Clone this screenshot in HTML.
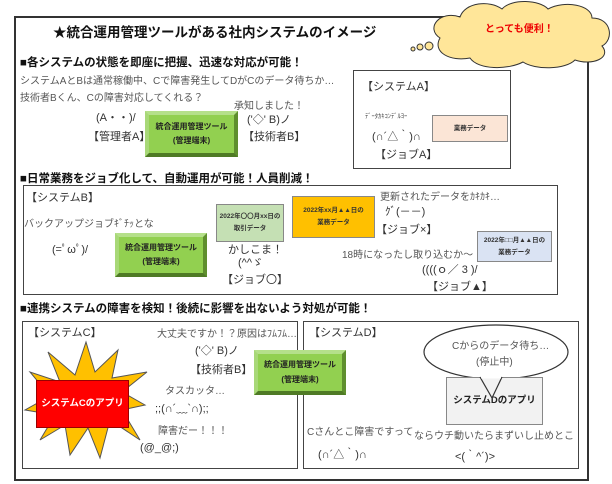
<!DOCTYPE html>
<html><head><meta charset="utf-8"><style>
body{margin:0;width:612px;height:484px;background:#fff;position:relative;overflow:hidden;font-family:"Liberation Sans","Noto Sans CJK JP",sans-serif;}
.a{position:absolute;white-space:nowrap;line-height:1;}
.g{color:#555;font-size:10px;}
.k{color:#333;font-size:11px;}
.box{position:absolute;border:1.5px solid #444;background:#fff;}
.tool{position:absolute;background:#92d050;border:4px solid;border-color:#b5e08a #5f8f2e #4f7a25 #a8d878;box-sizing:border-box;text-align:center;font-size:8px;font-weight:bold;color:#222;display:flex;flex-direction:column;justify-content:center;line-height:1.8;}
.dat{position:absolute;border:1px solid #888;box-sizing:border-box;text-align:center;font-size:6.5px;font-weight:bold;color:#333;display:flex;flex-direction:column;justify-content:center;line-height:1.8;}
.h{position:absolute;font-size:11.5px;font-weight:bold;color:#111;white-space:nowrap;}
</style></head><body>
<div class="box" style="left:14px;top:16px;width:571px;height:461px;border-width:2px;border-color:#333"></div>
<svg style="position:absolute;left:0;top:0" width="612" height="484">
<g fill="#ffe699" stroke="#333" stroke-width="1">
<circle cx="413" cy="49" r="2"/><circle cx="420" cy="47" r="3"/><circle cx="429" cy="46" r="4"/>
<path d="M440 38 C425 28 440 10 460 17 C465 2 490 0 502 9 C512 -2 540 0 548 9 C565 0 592 5 592 18 C612 18 614 40 602 46 C612 58 592 66 575 60 C565 70 535 70 523 62 C508 70 478 70 470 58 C450 62 432 52 440 38 Z"/>
</g>
</svg>
<div class="a" style="left:485px;top:25px;color:#e00;font-size:10px;font-weight:bold">とっても便利！</div>
<div class="a" style="left:53px;top:26px;font-size:13.5px;font-weight:bold;color:#111">★統合運用管理ツールがある社内システムのイメージ</div>
<div class="h" style="left:20px;top:54px">■各システムの状態を即座に把握、迅速な対応が可能！</div>
<div class="a g" style="left:20px;top:77px">システムAとBは通常稼働中、Cで障害発生してDがCのデータ待ちか…</div>
<div class="a g" style="left:20px;top:94px">技術者Bくん、Cの障害対応してくれる？</div>
<div class="a k" style="left:96px;top:113px">(A・・)/</div>
<div class="a k" style="left:88px;top:132px">【管理者A】</div>
<div class="tool" style="left:145px;top:111px;width:93px;height:46px"><div>統合運用管理ツール</div><div>(管理端末)</div></div>
<div class="a g" style="left:234px;top:102px">承知しました！</div>
<div class="a k" style="left:247px;top:115px">('◇' B)ノ</div>
<div class="a k" style="left:243px;top:132px">【技術者B】</div>
<div class="box" style="left:353px;top:70px;width:156px;height:97px"></div>
<div class="a k" style="left:362px;top:82px">【システムA】</div>
<div class="a" style="left:365px;top:114px;font-size:6.5px;color:#444">ﾃﾞｰﾀｶｷｺﾝﾃﾞﾙﾖｰ</div>
<div class="a k" style="left:372px;top:132px">(∩´△｀)∩</div>
<div class="a k" style="left:375px;top:150px">【ジョブA】</div>
<div class="dat" style="left:432px;top:115px;width:76px;height:27px;background:#fbe5d6">業務データ</div>
<div class="h" style="left:20px;top:170px">■日常業務をジョブ化して、自動運用が可能！人員削減！</div>
<div class="box" style="left:23px;top:185px;width:533px;height:108px"></div>
<div class="a k" style="left:26px;top:193px">【システムB】</div>
<div class="a g" style="left:24px;top:220px">バックアップジョブｷﾞﾁｯとな</div>
<div class="a k" style="left:52px;top:245px">(=ﾟωﾟ)/</div>
<div class="tool" style="left:115px;top:233px;width:92px;height:44px"><div>統合運用管理ツール</div><div>(管理端末)</div></div>
<div class="dat" style="left:216px;top:204px;width:68px;height:38px;background:#c5e0b4">2022年〇〇月xx日の<br>取引データ</div>
<div class="a k" style="left:228px;top:245px">かしこま！</div>
<div class="a k" style="left:238px;top:258px">(^^ゞ</div>
<div class="a k" style="left:222px;top:275px">【ジョブ〇】</div>
<div class="dat" style="left:292px;top:196px;width:83px;height:42px;background:#ffc000">2022年xx月▲▲日の<br>業務データ</div>
<div class="a g" style="left:380px;top:193px">更新されたデータをｶｷｶｷ…</div>
<div class="a k" style="left:385px;top:207px">ｸﾞ(－－)</div>
<div class="a k" style="left:376px;top:225px">【ジョブ×】</div>
<div class="dat" style="left:477px;top:231px;width:75px;height:31px;background:#dae3f3">2022年□□月▲▲日の<br>業務データ</div>
<div class="a g" style="left:342px;top:251px">18時になったし取り込むか～</div>
<div class="a k" style="left:422px;top:265px">((((ｏ／ 3 )/</div>
<div class="a k" style="left:427px;top:282px">【ジョブ▲】</div>
<div class="h" style="left:20px;top:300px">■連携システムの障害を検知！後続に影響を出ないよう対処が可能！</div>
<div class="box" style="left:22px;top:321px;width:274px;height:146px"></div>
<div class="box" style="left:303px;top:321px;width:274px;height:146px"></div>
<svg style="position:absolute;left:0;top:0" width="612" height="484">
<polygon fill="#ffc000" stroke="#555" stroke-width="1" points="86,342 95,372 118,350 112,378 147,372 122,392 145,405 122,410 140,440 110,420 100,458 88,428 70,455 65,425 40,440 55,415 25,410 50,396 30,372 60,382 48,352 75,375"/>
<ellipse cx="496" cy="352" rx="72" ry="27" fill="#fff" stroke="#333" stroke-width="1.2"/>
</svg>
<div class="dat" style="left:36px;top:380px;width:93px;height:48px;background:#f00;color:#fff;font-size:9.5px;border-color:#900">システムCのアプリ</div>
<div class="a k" style="left:28px;top:328px">【システムC】</div>
<div class="a g" style="left:157px;top:330px">大丈夫ですか！？原因はﾌﾑﾌﾑ…</div>
<div class="a k" style="left:195px;top:346px">('◇' B)ノ</div>
<div class="a k" style="left:190px;top:365px">【技術者B】</div>
<div class="a g" style="left:165px;top:387px">タスカッタ…</div>
<div class="a k" style="left:155px;top:404px">;;(∩´﹏`∩);;</div>
<div class="a g" style="left:158px;top:427px">障害だー！！！</div>
<div class="a k" style="left:140px;top:443px">(@_@;)</div>
<div class="tool" style="left:254px;top:350px;width:92px;height:45px"><div>統合運用管理ツール</div><div>(管理端末)</div></div>
<div class="a k" style="left:309px;top:328px">【システムD】</div>
<div class="dat" style="left:446px;top:377px;width:97px;height:48px;background:#f2f2f2;font-size:9.5px;color:#222">システムDのアプリ</div>
<svg style="position:absolute;left:0;top:0" width="612" height="484"><path d="M480 377 L492 398 L502 377" fill="#f2f2f2" stroke="#333" stroke-width="1.2"/><rect x="481" y="372" width="20" height="6.5" fill="#fff"/></svg>
<div class="a g" style="left:452px;top:342px">Cからのデータ待ち…</div>
<div class="a g" style="left:476px;top:358px">(停止中)</div>
<div class="a g" style="left:307px;top:428px">Cさんとこ障害ですって</div>
<div class="a g" style="left:414px;top:432px">ならウチ動いたらまずいし止めとこ</div>
<div class="a k" style="left:318px;top:450px">(∩´△｀)∩</div>
<div class="a k" style="left:455px;top:452px">&lt;(｀^´)&gt;</div>
</body></html>
